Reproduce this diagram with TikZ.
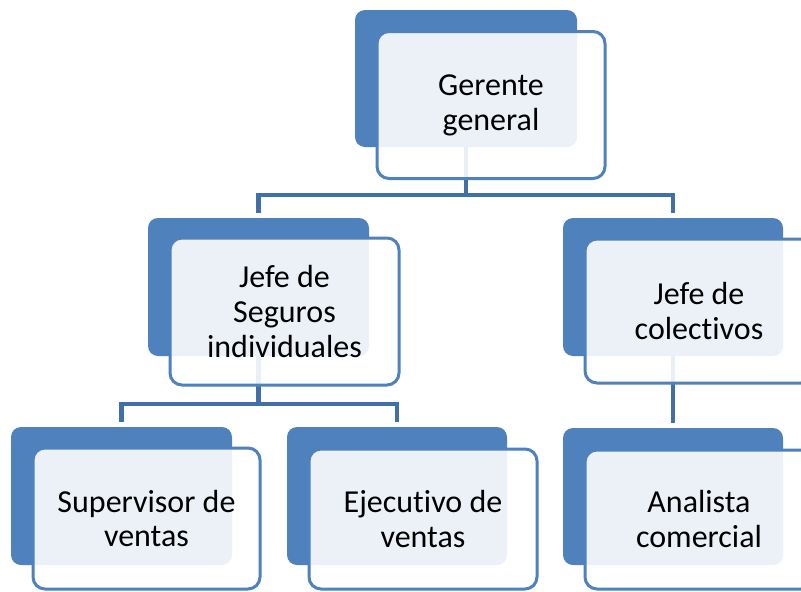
\documentclass[tikz,border=0pt]{standalone}
\usepackage{fontspec}
\setmainfont{Carlito}[Ligatures=CommonOff]
\definecolor{accent}{HTML}{4F81BD}
\definecolor{connc}{HTML}{4070A6}
\begin{document}
\begin{tikzpicture}[x=1pt,y=-1pt,
  backbox/.style={rectangle,rounded corners=10pt,fill=accent,draw=none,inner sep=0pt},
  frontbox/.style={rectangle,rounded corners=12pt,draw=accent,line width=3pt,fill=white,
    fill opacity=0.89,text opacity=1,inner sep=0pt,align=center,
    font=\fontsize{32}{35}\selectfont},
  conn/.style={draw=connc,line width=4.5pt}]
\clip (0,0) rectangle (801,592);
\fill[white] (0,0) rectangle (801,592);
% back boxes
\node[backbox,minimum width=222pt,minimum height=137pt] (gB) at (466,78.5) {};
\node[backbox,minimum width=221pt,minimum height=138pt] (sB) at (258.5,287) {};
\node[backbox,minimum width=220pt,minimum height=138pt] (cB) at (673,287) {};
\node[backbox,minimum width=221pt,minimum height=138pt] (svB) at (121.5,496) {};
\node[backbox,minimum width=220pt,minimum height=138pt] (eB) at (397,496) {};
\node[backbox,minimum width=220pt,minimum height=137pt] (aB) at (673,496.5) {};
% connectors
\draw[conn] (gB.south) -- ([yshift=-48pt]gB.south);
\draw[conn] ([yshift=5pt]sB.north) |- ([yshift=-48pt]gB.south) -| ([yshift=5pt]cB.north);
\draw[conn] (sB.south) -- ([yshift=-48pt]sB.south);
\draw[conn] ([yshift=5pt]svB.north) |- ([yshift=-48pt]sB.south) -| ([yshift=5pt]eB.north);
\draw[conn] (cB.south) -- ([yshift=5pt]aB.north);
% front boxes
\node[frontbox,minimum width=228pt,minimum height=147pt] (gF) at (491,105) {Gerente\\general};
\node[frontbox,minimum width=229pt,minimum height=147pt] (sF) at (284.5,311.5) {Jefe de\\Seguros\\individuales};
\node[frontbox,minimum width=228pt,minimum height=144pt] (cF) at (699,311) {Jefe de\\colectivos};
\node[frontbox,minimum width=227pt,minimum height=141pt] (svF) at (146.5,518.5) {Supervisor de\\ventas};
\node[frontbox,minimum width=228pt,minimum height=140pt] (eF) at (423,519) {Ejecutivo de\\ventas};
\node[frontbox,minimum width=228pt,minimum height=139pt] (aF) at (699,519.5) {Analista\\comercial};
\end{tikzpicture}
\end{document}
